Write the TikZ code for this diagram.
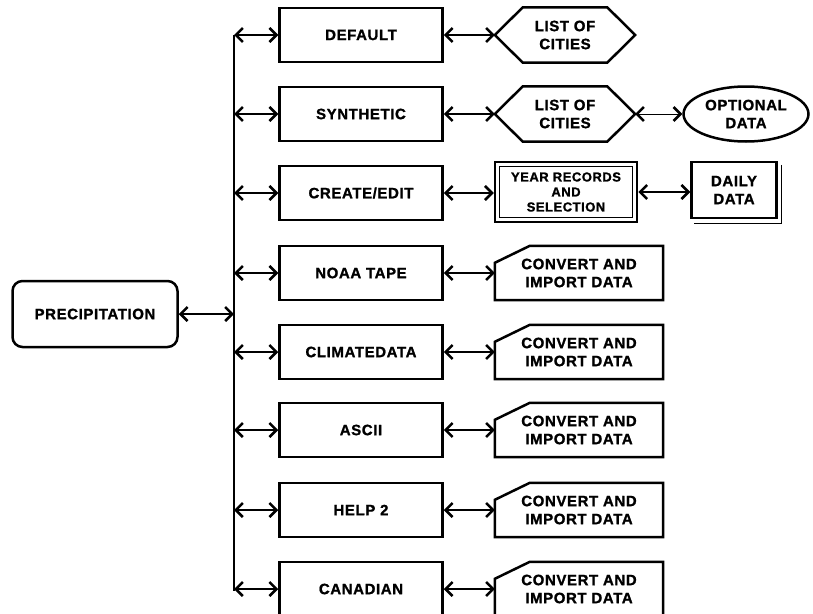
\documentclass[tikz,border=0pt]{standalone}
\usepackage{fontspec}
\setmainfont{Liberation Sans}
\newfontfamily\chartfont[LetterSpace=4,BoldFeatures={FakeBold=1.2}]{Liberation Sans}
\usepackage{tikz}
\usetikzlibrary{arrows.meta,shapes.geometric}
\tikzset{>={Straight Barb[length=7pt,width=14pt,line width=2.5pt]}}
\tikzset{
  every node/.style={font=\chartfont\bfseries\fontsize{15}{18}\selectfont,align=center},
  smallfont/.style={font=\chartfont\bfseries\fontsize{13}{15}\selectfont},
  boxline/.style={line width=2.5pt},
  link/.style={<->,line width=2pt},
  precbox/.style={draw,boxline,rounded corners=10pt,minimum width=165pt,minimum height=66pt},
  menubox/.style={draw,boxline,minimum width=163pt,minimum height=54pt},
  hexbox/.style={minimum width=140pt,minimum height=55pt},
  cardbox/.style={minimum width=168pt,minimum height=54pt},
  ovalbox/.style={draw,boxline,ellipse,minimum width=122pt,minimum height=55pt},
  yearbox/.style={draw,boxline,minimum width=142pt,minimum height=60pt},
  dailybox/.style={draw,boxline,fill=white,minimum width=85pt,minimum height=56pt}
}
\newcommand*{\hexline}[1]
  {\draw[boxline] (#1.west) -- ([xshift=28pt]#1.north west) -- ([xshift=-28pt]#1.north east)
     -- (#1.east) -- ([xshift=-28pt]#1.south east) -- ([xshift=28pt]#1.south west) -- cycle}
\newcommand*{\cardline}[1]
  {\draw[boxline] ([yshift=-17pt]#1.north west) -- ([xshift=35pt]#1.north west)
     -- (#1.north east) -- (#1.south east) -- (#1.south west) -- cycle}

\begin{document}
\begin{tikzpicture}[x=1pt,y=-1pt]
\useasboundingbox (0,0) rectangle (813,613);
% Units are pixels of the page, y runs down

% Main box and bus
\node[precbox] (prec) at (95,314) {PRECIPITATION};
\coordinate (bustop) at (234,35);
\coordinate (busbot) at (234,591);
\draw[line width=2.5pt] (bustop) -- (busbot);
\draw[link] (prec) -- (bustop |- prec);

% Menu column
\node[menubox] (dflt)  at (361,35)  {DEFAULT};
\node[menubox] (synth) at (361,114) {SYNTHETIC};
\node[menubox] (edit)  at (361,193) {CREATE/EDIT};
\node[menubox] (noaa)  at (361,273) {NOAA TAPE};
\node[menubox] (clim)  at (361,352) {CLIMATEDATA};
\node[menubox] (ascii) at (361,430) {ASCII};
\node[menubox] (help)  at (361,510) {HELP 2};
\node[menubox] (canad) at (361,589) {CANADIAN};

\draw[link] (bustop |- dflt) -- (dflt);
\draw[link] (bustop |- synth) -- (synth);
\draw[link] (bustop |- edit) -- (edit);
\draw[link] (bustop |- noaa) -- (noaa);
\draw[link] (bustop |- clim) -- (clim);
\draw[link] (bustop |- ascii) -- (ascii);
\draw[link] (bustop |- help) -- (help);
\draw[link] (bustop |- canad) -- (canad);

% City lists
\node[hexbox] (cities1) at (565,35)  {LIST OF\\CITIES};
\node[hexbox] (cities2) at (565,114) {LIST OF\\CITIES};
\hexline{cities1};
\hexline{cities2};
\node[ovalbox] (opt) at (746,114) {OPTIONAL\\DATA};
\draw[link] (dflt) -- (cities1.west);
\draw[link] (synth) -- (cities2.west);
\draw[link,line width=1pt] (cities2.east) -- (opt);

% Year records and daily data
\node[yearbox,smallfont] (year) at (566,192) {YEAR RECORDS\\AND\\SELECTION};
\draw[line width=1.2pt] ([shift={(6pt,-6pt)}]year.north west) rectangle ([shift={(-6pt,6pt)}]year.south east);
\node[dailybox] (daily) at (734,190) {DAILY\\DATA};
\draw[line width=1.2pt] ([shift={(4pt,-4pt)}]daily.north east) -- ([shift={(4pt,-4pt)}]daily.south east)
  -- ([shift={(4pt,-4pt)}]daily.south west);
\draw[link] (edit) -- (edit -| year.west);
\draw[link] (year.east) -- (year.east -| daily.west);

% Import cards
\node[cardbox] (conv1) at (579,273) {CONVERT AND\\IMPORT DATA};
\node[cardbox] (conv2) at (579,352) {CONVERT AND\\IMPORT DATA};
\node[cardbox] (conv3) at (579,430) {CONVERT AND\\IMPORT DATA};
\node[cardbox] (conv4) at (579,510) {CONVERT AND\\IMPORT DATA};
\node[cardbox] (conv5) at (579,589) {CONVERT AND\\IMPORT DATA};
\cardline{conv1};
\cardline{conv2};
\cardline{conv3};
\cardline{conv4};
\cardline{conv5};
\draw[link] (noaa) -- (conv1);
\draw[link] (clim) -- (conv2);
\draw[link] (ascii) -- (conv3);
\draw[link] (help) -- (conv4);
\draw[link] (canad) -- (conv5);
\end{tikzpicture}
\end{document}
